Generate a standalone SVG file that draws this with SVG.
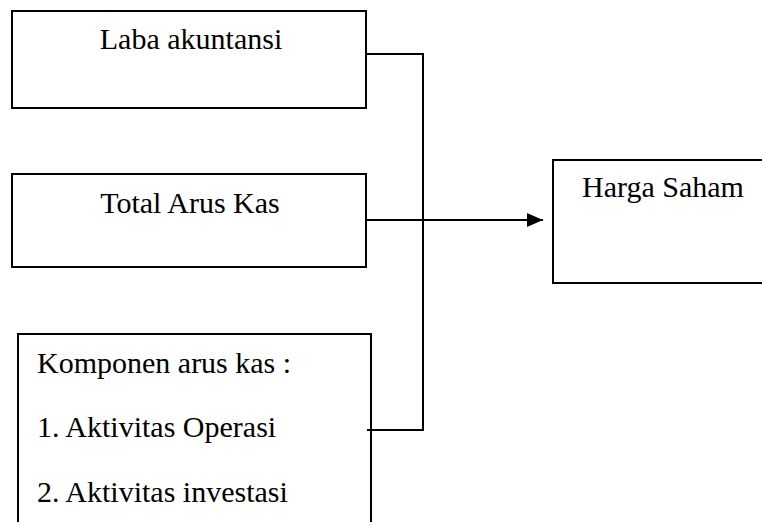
<svg xmlns="http://www.w3.org/2000/svg" width="762" height="522" viewBox="0 0 762 522">
<style>
.box{fill:#fff;stroke:#000;stroke-width:2}
.t{font-family:'Liberation Serif','Tinos','DejaVu Serif',serif;font-size:30px;fill:#000}
.c{fill:none;stroke:#000;stroke-width:2}
</style>
<defs>
<marker id="ah" markerWidth="16" markerHeight="14" refX="16" refY="7" orient="auto" markerUnits="userSpaceOnUse">
<path d="M0,0 L16,7 L0,14 Z" fill="#000"/>
</marker>
</defs>
<rect width="762" height="522" fill="#fff"/>
<g id="laba">
<rect class="box" x="12" y="11" width="354" height="97"/>
<text class="t" x="191" y="49" text-anchor="middle">Laba akuntansi</text>
</g>
<g id="total">
<rect class="box" x="12" y="174" width="354" height="93"/>
<text class="t" x="190" y="213" text-anchor="middle">Total Arus Kas</text>
</g>
<g id="komponen">
<rect class="box" x="18" y="334" width="353" height="200"/>
<text class="t" x="37" y="373">Komponen arus kas :</text>
<text class="t" x="37" y="437">1. Aktivitas Operasi</text>
<text class="t" x="37" y="502">2. Aktivitas investasi</text>
</g>
<g id="harga">
<rect class="box" x="553" y="160" width="220" height="123"/>
<text class="t" x="582" y="197">Harga Saham</text>
</g>
<g id="connectors">
<polyline class="c" points="366,54 423,54 423,430 367,430"/>
<line class="c" x1="366" y1="220" x2="543" y2="220" marker-end="url(#ah)"/>
</g>
</svg>
